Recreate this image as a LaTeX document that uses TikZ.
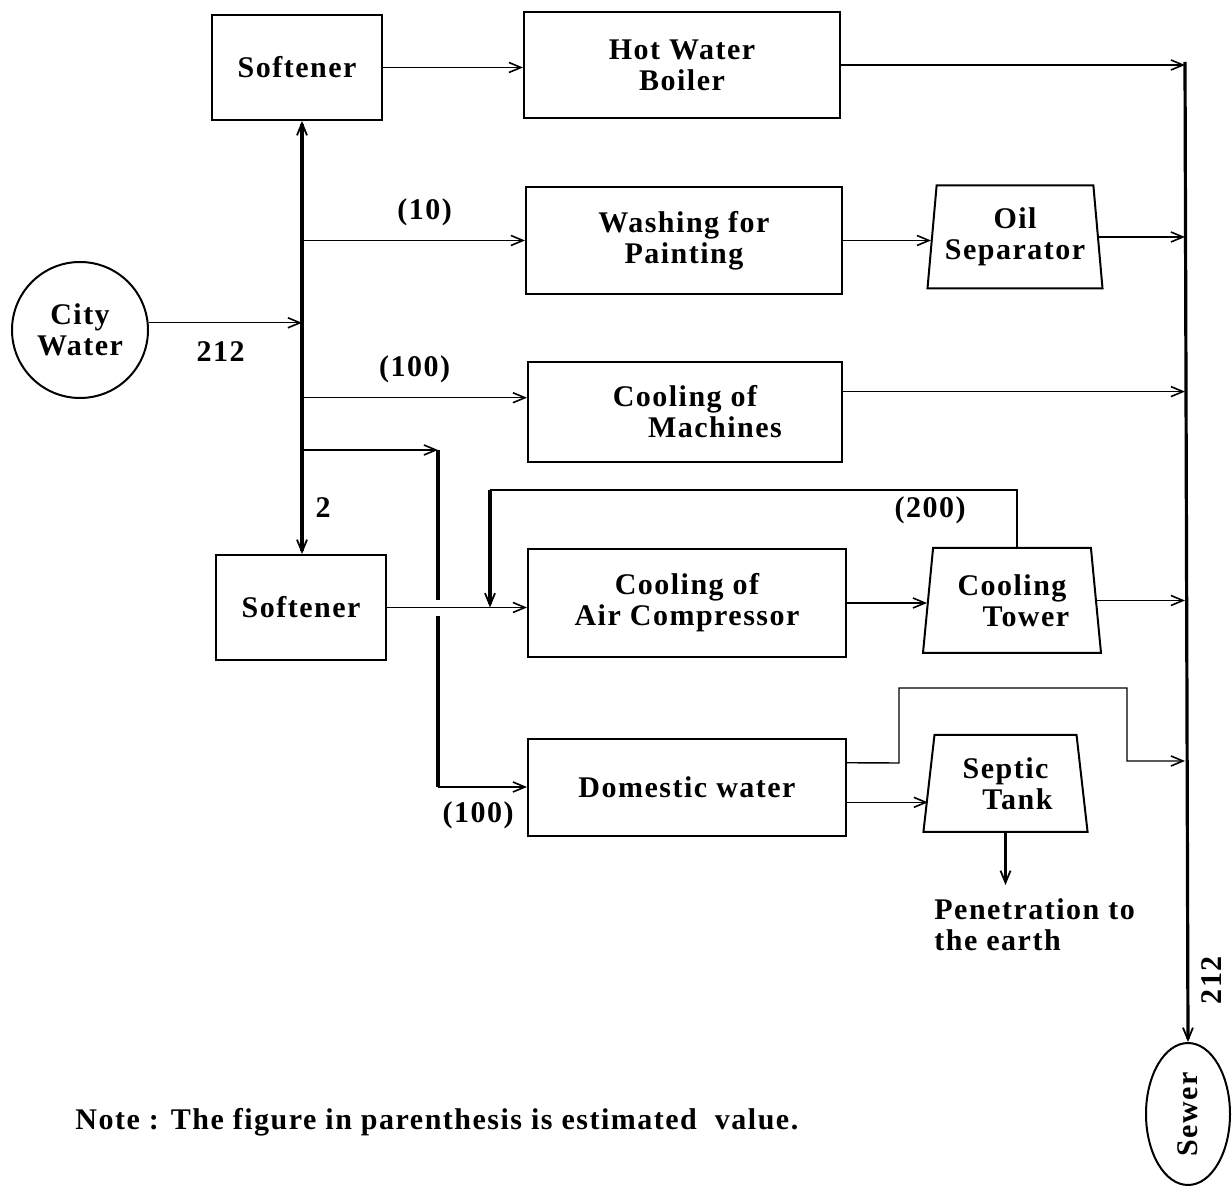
\documentclass[tikz,border=0pt]{standalone}
\usepackage{fontspec}
\setmainfont{Liberation Serif}[LetterSpace=5]
\usetikzlibrary{arrows.meta,shapes.geometric,calc}
\begin{document}
\begin{tikzpicture}[x=0.5pt,y=-0.5pt,
  font=\fontsize{15}{15.5}\selectfont\bfseries,
  tip/.tip={Straight Barb[length=6pt,width=5pt,line width=0.8pt]},
  arr/.style={line width=0.7pt,-{tip}},
  thk/.style={line width=1.6pt},
  thkarr/.style={line width=1.6pt,-{Straight Barb[length=6pt,width=5pt,line width=0.9pt]}},
  blk/.style={draw,line width=1pt,rectangle,align=center,inner sep=0pt},
  trap/.style={draw,line width=1pt,trapezium,trapezium left angle=82,trapezium right angle=82,
    trapezium stretches=true,align=center,inner sep=0pt},
  lbl/.style={inner sep=0pt}]
\useasboundingbox (0,0) rectangle (1232,1186);
% nodes
\node[blk,minimum width=85pt,minimum height=52.5pt] (soft1) at (297,67.5) {Softener};
\node[blk,minimum width=158pt,minimum height=53pt] (boiler) at (682,65) {Hot Water\\Boiler};
\node[blk,minimum width=158pt,minimum height=53.5pt] (wash) at (684,240.5) {Washing for\\Painting};
\node[trap,minimum width=88pt,minimum height=51.5pt] (oil) at (1015,237) {Oil\\Separator};
\node[draw,circle,line width=1pt,minimum size=68pt,inner sep=0pt,align=center] (city) at (80,330) {City\\Water};
\node[blk,minimum width=157pt,minimum height=50pt] (mach) at (685,412) {Cooling of\\\hspace*{30pt}Machines};
\node[blk,minimum width=85pt,minimum height=52.5pt] (soft2) at (301,607.5) {Softener};
\node[blk,minimum width=159pt,minimum height=54pt] (comp) at (687,603) {Cooling of\\Air Compressor};
\node[trap,minimum width=89.5pt,minimum height=52.5pt] (tower) at (1012,600.5) {Cooling\\\hspace*{14pt}Tower};
\node[blk,minimum width=159pt,minimum height=48.5pt] (dom) at (687,787.5) {Domestic water};
\node[trap,minimum width=82.5pt,minimum height=48.5pt] (septic) at (1005.5,783.5) {Septic\\\hspace*{12pt}Tank};
\node[draw,ellipse,line width=1pt,minimum width=42pt,minimum height=71pt,inner sep=0pt] (sewer) at (1188,1114) {\rotatebox{90}{Sewer}};
\node[lbl,anchor=north west,align=left] (pen) at (934,898) {Penetration to\\the earth};
\node[lbl,anchor=west] (note) at (75,1122) {Note : The figure in parenthesis is estimated\ \ value.};
% coordinates
\coordinate (t) at (302,323);
\coordinate (b1) at (302,450);
\coordinate (c1) at (438,450);
\coordinate (c2) at (438,787);
\coordinate (g1) at (438,600);
\coordinate (g2) at (438,616);
\coordinate (r) at (1185,62);
\coordinate (fb1) at (1017,490);
\coordinate (fb2) at (490,490);
\coordinate (d1) at (899,763);
\coordinate (d2) at (1127,688);
% left trunk
\draw[arr] (city.6) -- (city.6 -| t) node[lbl,pos=0.47,below=9pt] {212};
\draw[thkarr] (t) -- (t |- soft1.south);
\draw[thkarr] (t) -- (t |- soft2.north) node[lbl,pos=0.8,right=6pt] {2};
% top row
\draw[arr] (soft1.east) -- (soft1.east -| boiler.west);
\draw[arr] (boiler.east) -- (boiler.east -| r);
% washing
\draw[arr] (wash.west -| t) -- (wash.west) node[lbl,pos=0.55,above=7pt] {(10)};
\draw[arr] (wash.east) -- (wash.east -| oil.west);
\draw[arr] (oil.east) -- (oil.east -| r);
% machines
\coordinate (mw) at ($(mach.north west)!0.36!(mach.south west)$);
\coordinate (me) at ($(mach.north east)!0.3!(mach.south east)$);
\draw[arr] (mw -| t) -- (mw) node[lbl,pos=0.5,above=7pt] {(100)};
\draw[arr] (me) -- (me -| r);
% domestic branch
\draw[arr] (b1) -- (c1);
\draw[thk] (c1) -- (g1);
\draw[thk] (g2) -- (c2);
\draw[arr] (c2) -- (c2 -| dom.west) node[lbl,pos=0.45,below=7pt] {(100)};
% compressor
\draw[arr] (soft2.east) -- (soft2.east -| comp.west);
\draw[line width=1pt] (tower.north -| fb1) -- (fb1) -- (fb2);
\draw[thkarr] (fb2) -- (fb2 |- soft2.east);
\node[lbl] (l200) at (930,510) {(200)};
\draw[arr] (comp.east) -- (comp.east -| tower.west);
\draw[arr] (tower.east) -- (tower.east -| r);
% domestic
\coordinate (de) at ($(dom.north east)!0.25!(dom.south east)$);
\coordinate (de2) at ($(dom.north east)!0.65!(dom.south east)$);
\draw[arr] (de) -- (d1) |- (d2) |- (d2 |- 0,761) -- (r |- 0,761);
\draw[arr] (de2) -- (de2 -| septic.west);
\draw[thkarr] (septic.south) -- (septic.south |- 0,885);
% right trunk
\draw[thkarr] (r) -- (sewer.north);
\node[lbl,rotate=90] (l212) at (1212,980) {212};
\end{tikzpicture}
\end{document}
